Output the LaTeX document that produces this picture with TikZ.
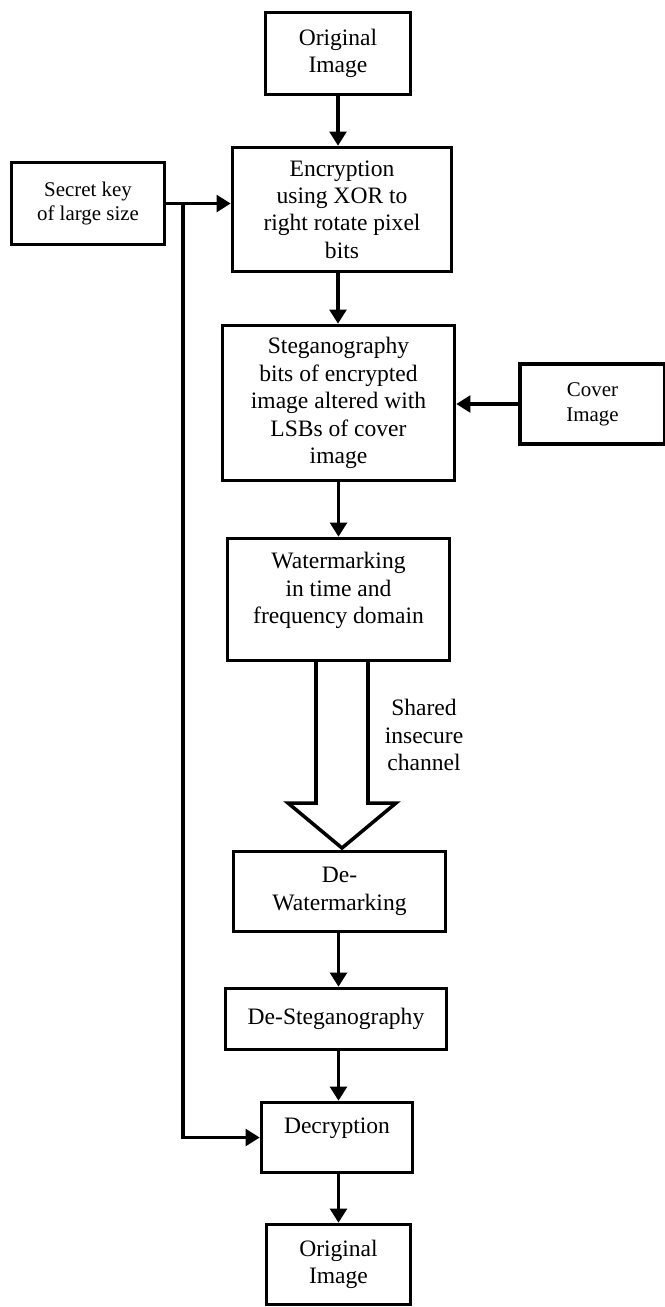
\documentclass[tikz,border=0pt]{standalone}
\usepackage{fontspec}
\setmainfont{Liberation Serif}
\usetikzlibrary{positioning}
\usetikzlibrary{arrows.meta}

\begin{document}
\begin{tikzpicture}[
    box/.style={draw, line width=1pt, align=center, inner sep=0pt,
        font=\fontsize{6.7}{7.8}\selectfont},
    sidebox/.style={box, font=\fontsize{5.95}{7.1}\selectfont},
    arr/.style={line width=1pt, -{Triangle[length=4pt,width=4.7pt]}}
    ]

\useasboundingbox (0,0) rectangle (6.65,-13.07);

% nodes
{
\node[box, minimum width=1.45cm, minimum height=0.82cm] (orig1) at (3.38,-0.535) {Original\\Image};
\node[box, minimum width=2.19cm, minimum height=1.24cm] (enc) at (3.42,-2.095) {Encryption\\using XOR to\\right rotate pixel\\bits};
\node[sidebox, minimum width=1.53cm, minimum height=0.82cm] (key) at (0.88,-2.035) {Secret key\\of large size};
\node[box, minimum width=2.32cm, minimum height=1.55cm] (steg) at (3.385,-4.03) {Steganography\\bits of encrypted\\image altered with\\LSBs of cover\\image};
\node[sidebox, minimum width=1.45cm, minimum height=0.80cm] (cover) at (5.925,-4.04) {Cover\\Image};
\node[box, minimum width=2.22cm, minimum height=1.22cm, text depth=0.23cm] (wm) at (3.385,-5.995) {Watermarking\\in time and\\frequency domain};
\node[box, minimum width=2.12cm, minimum height=0.80cm] (dewm) at (3.395,-8.915) {De-\\Watermarking};
\node[box, minimum width=2.21cm, minimum height=0.61cm] (desteg) at (3.36,-10.19) {De-Steganography};
\node[box, minimum width=1.51cm, minimum height=0.70cm, text depth=0.23cm] (dec) at (3.37,-11.375) {Decryption};
\node[box, minimum width=1.44cm, minimum height=0.80cm] (orig2) at (3.385,-12.645) {Original\\Image};

\node[align=center, font=\fontsize{6.7}{7.9}\selectfont] (chan) at (4.24,-7.35) {Shared\\insecure\\channel};
}

% arrows
{
\draw[arr] (orig1.south) -- (orig1.south |- enc.north);
\draw[arr] (enc.south -| orig1) -- (orig1 |- steg.north);
\draw[arr] (steg.south) -- (steg.south |- wm.north);
\draw[arr] (dewm.south -| steg) -- (steg |- desteg.north);
\draw[arr] (desteg.south -| steg) -- (steg |- dec.north);
\draw[arr] (dec.south -| steg) -- (steg |- orig2.north);

\draw[arr] (cover.west) -- (cover.west -| steg.east);
\draw[arr] (key.east) -- (key.east -| enc.west);

\coordinate (keyjn) at (1.83,-2.035);
\draw[arr] (keyjn) |- (dec.west);
}

% channel arrow
\draw[line width=1pt, line join=miter] (3.16,-6.62) -- (3.16,-8.03) -- (2.88,-8.03) -- (3.42,-8.48)
    -- (3.96,-8.03) -- (3.68,-8.03) -- (3.68,-6.62);

\end{tikzpicture}
\end{document}
